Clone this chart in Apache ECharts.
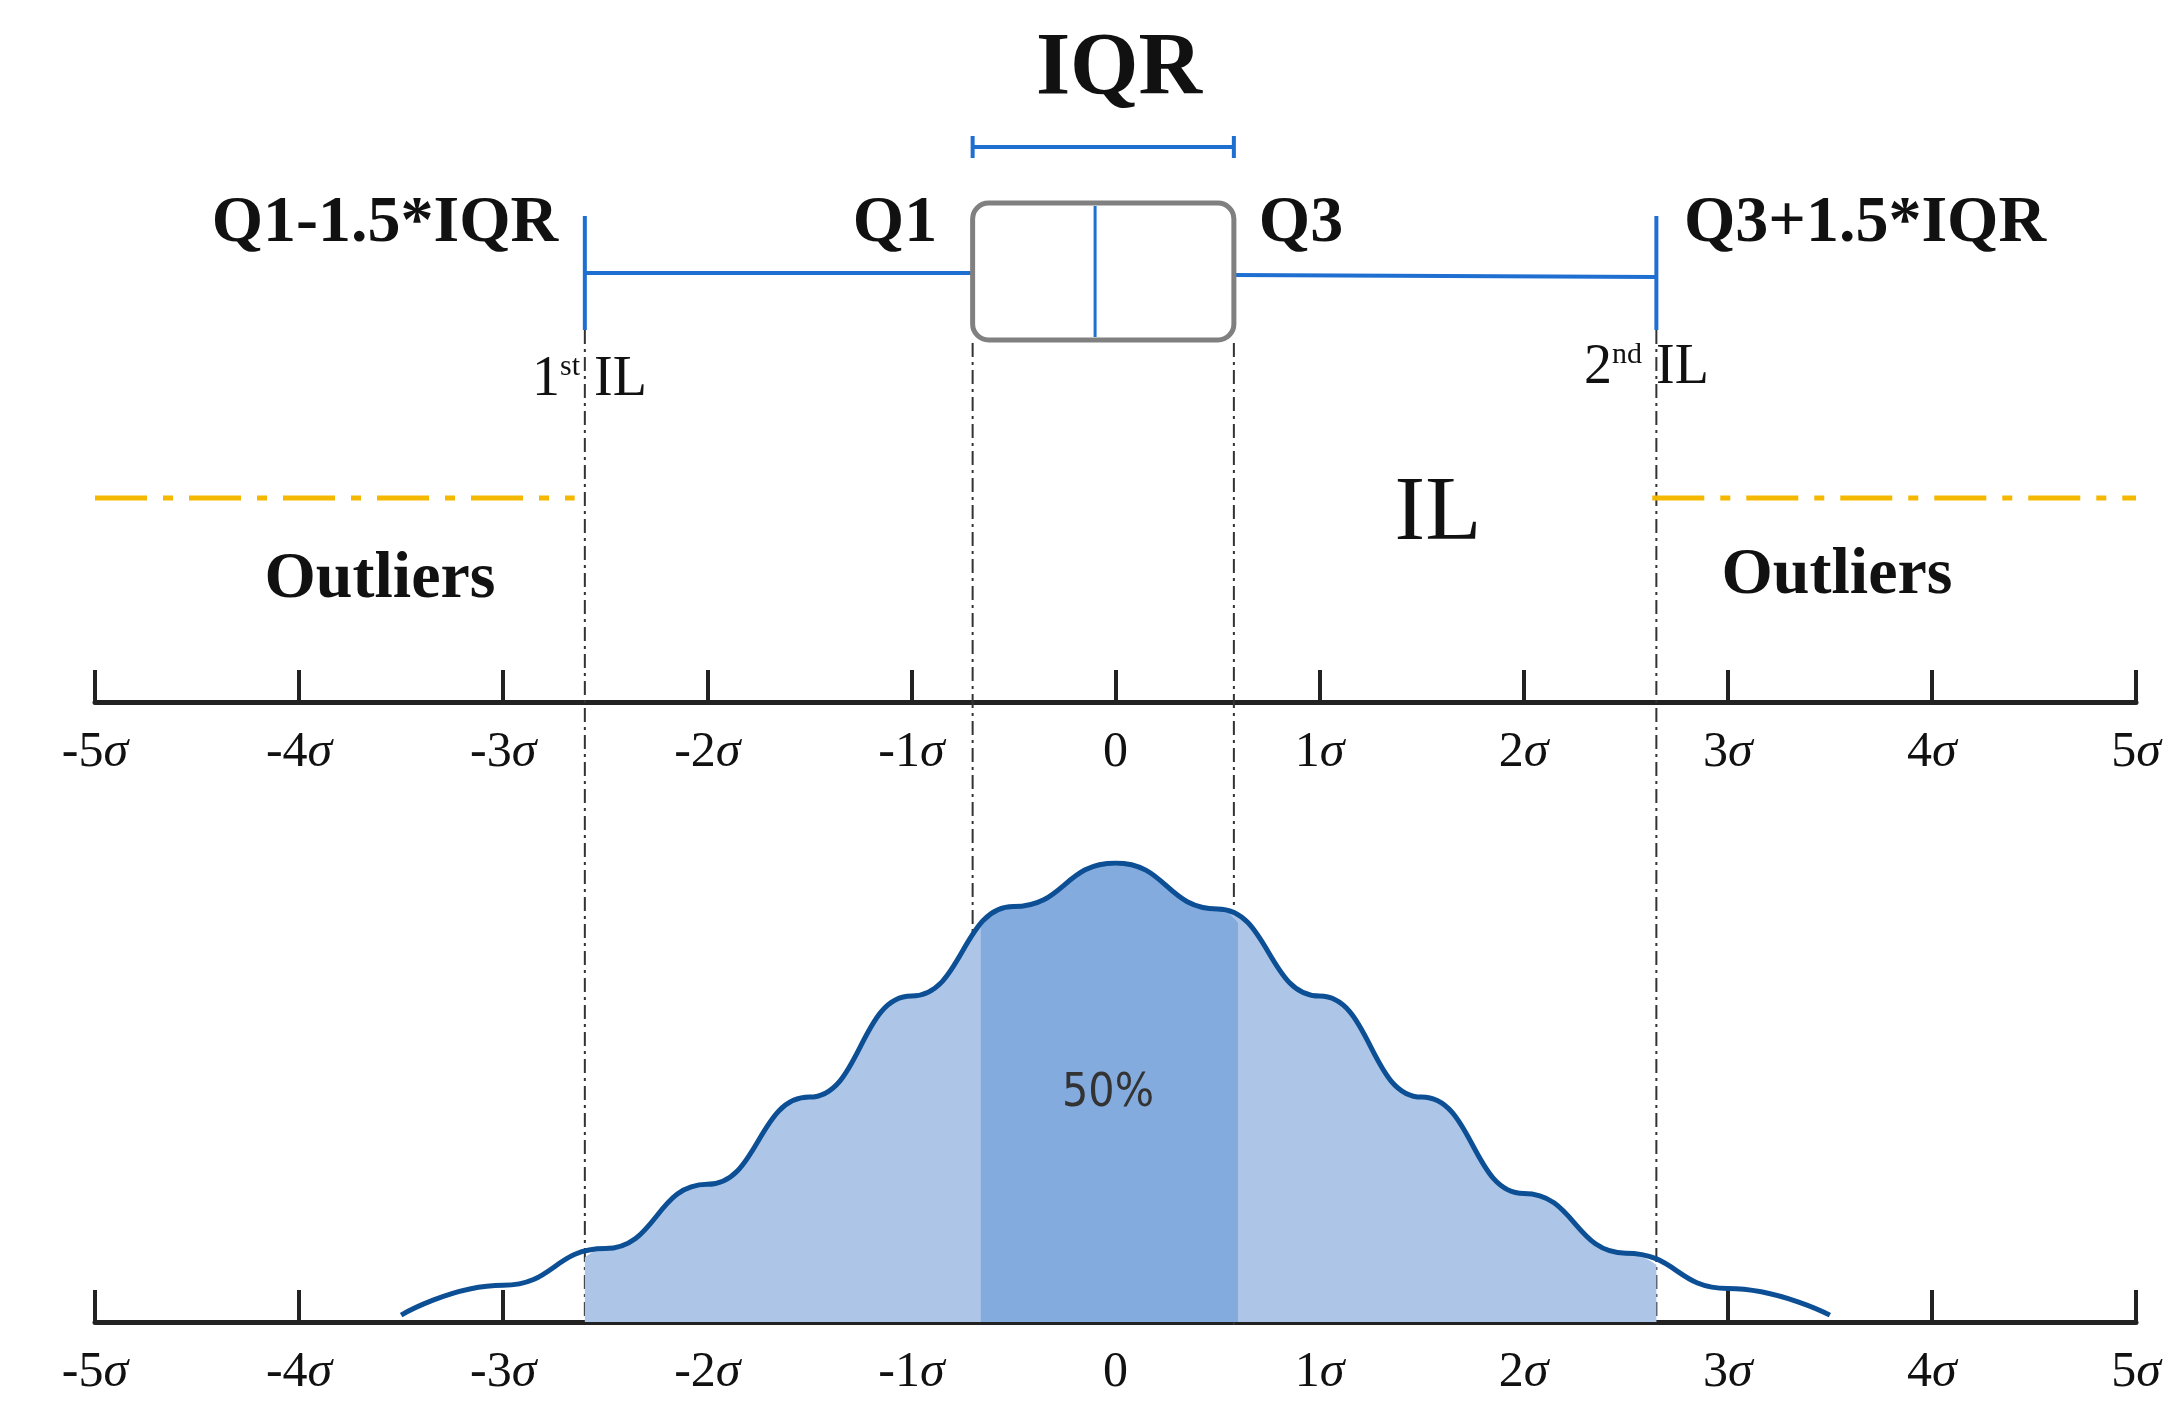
<!DOCTYPE html>
<html><head><meta charset="utf-8">
<script src="https://cdn.jsdelivr.net/npm/echarts@6/dist/echarts.min.js"></script>
<style>html,body{margin:0;padding:0;background:#fff}#c{width:2182px;height:1415px}</style>
</head><body><div id="c"></div>
<script>
// ---- data ----
const sigmaTicks = [-5,-4,-3,-2,-1,0,1,2,3,4,5];
const curveX = [-3.5,-3,-2.5,-2,-1.5,-1,-0.5,0,0.5,1,1.5,2,2.5,3,3.5];
const curveY = [0.015,0.08,0.16,0.30,0.49,0.71,0.905,1.0,0.90,0.71,0.49,0.28,0.15,0.073,0.015];
const lowerFence = -2.6, upperFence = 2.65;
const q1 = -0.7, q3 = 0.58, median = -0.1;
const fenceDensity = [0.14, 0.125];
const quartDensity = [0.86, 0.87];
// ---- helpers ----
function segment(a, b, ya, yb){
  const pts = [[a, ya]];
  curveX.forEach((x,i)=>{ if(x>a && x<b) pts.push([x, curveY[i]]); });
  pts.push([b, yb]);
  return pts;
}
const serif = '"Liberation Serif","DejaVu Serif",serif';
const axisCommon = {
  type:'value', min:-5, max:5, interval:1, position:'bottom',
  axisLine:{show:true, onZero:false, lineStyle:{color:'#222', width:5}},
  axisTick:{show:true, inside:true, length:32, lineStyle:{color:'#222', width:4}},
  splitLine:{show:false},
  axisLabel:{margin:26, formatter:v=>'{n|'+(v===0?'0':v+'')+'}'+(v===0?'':'{s|σ}'),
    rich:{n:{fontFamily:serif,fontSize:50,color:'#111'}, s:{fontFamily:serif,fontSize:50,fontStyle:'italic',color:'#111'}}}
};
const chart = echarts.init(document.getElementById('c'));
const dashV = {color:'#333', width:2, type:[14,5,3,5]};
function vline(x, y0, y1){ return {type:'line', xAxisIndex:0, yAxisIndex:0, data:[[x,y0],[x,y1]], symbol:'none', clip:false, lineStyle:dashV, z:1}; }
function t(text, x, y, size, bold, extra){
  return Object.assign({type:'text', x, y, style:{text, fontFamily:serif, fontSize:size, fontWeight:bold?'bold':'normal', fill:'#111', align:'center', verticalAlign:'middle'}}, extra||{});
}
const curveLine = {smooth:0.5, smoothMonotone:'x'};
chart.setOption({
  animation:false,
  grid:[{left:95,right:46,top:0,height:702},{left:95,right:46,top:863,bottom:93}],
  xAxis:[Object.assign({gridIndex:0},axisCommon), Object.assign({gridIndex:1},axisCommon)],
  yAxis:[{gridIndex:0,type:'value',min:0,max:702,inverse:true,show:false},
         {gridIndex:1,type:'value',min:0,max:1,show:false}],
  series:[
    Object.assign({type:'line', xAxisIndex:1, yAxisIndex:1, data:segment(lowerFence, upperFence, fenceDensity[0], fenceDensity[1]), symbol:'none', lineStyle:{width:0}, areaStyle:{color:'#adc6e8', opacity:1}, z:2}, curveLine),
    Object.assign({type:'line', xAxisIndex:1, yAxisIndex:1, data:segment(q1+0.04, q3+0.02, quartDensity[0], quartDensity[1]), symbol:'none', lineStyle:{width:0}, areaStyle:{color:'#84abdd', opacity:1}, z:3}, curveLine),
    Object.assign({type:'line', xAxisIndex:1, yAxisIndex:1, data:curveX.map((x,i)=>[x,curveY[i]]), symbol:'none', lineStyle:{color:'#0d4f94', width:5}, z:5}, curveLine),
    vline(lowerFence, 330, 1318), vline(q1, 343, 1322), vline(q3, 343, 1325), vline(upperFence, 330, 1322),
    {type:'line', data:[[lowerFence,273],[q1,273]], symbol:'none', lineStyle:{color:'#1f6fd1', width:4}},
    {type:'line', data:[[q3,275],[upperFence,277]], symbol:'none', lineStyle:{color:'#1f6fd1', width:4}},
    {type:'line', data:[[lowerFence,216],[lowerFence,330]], symbol:'none', lineStyle:{color:'#1f6fd1', width:4}},
    {type:'line', data:[[upperFence,216],[upperFence,330]], symbol:'none', lineStyle:{color:'#1f6fd1', width:4}},
    {type:'line', data:[[q1,147],[q3,147]], symbol:'none', lineStyle:{color:'#1f6fd1', width:4}},
    {type:'line', data:[[q1,136],[q1,158]], symbol:'none', lineStyle:{color:'#1f6fd1', width:4}},
    {type:'line', data:[[q3,136],[q3,158]], symbol:'none', lineStyle:{color:'#1f6fd1', width:4}},
    {type:'custom', xAxisIndex:0, yAxisIndex:0, data:[[q1,q3,median]], clip:false, z:4,
     renderItem:(params, api)=>{
       const p0 = api.coord([api.value(0),203]), p1 = api.coord([api.value(1),340]);
       const m0 = api.coord([api.value(2),203]), m1 = api.coord([api.value(2),340]);
       return {type:'group', children:[
         {type:'rect', shape:{x:p0[0],y:p0[1],width:p1[0]-p0[0],height:p1[1]-p0[1],r:16}, style:{fill:'#fff',stroke:'#808080',lineWidth:5}},
         {type:'line', shape:{x1:m0[0],y1:m0[1]+3,x2:m1[0],y2:m1[1]-3}, style:{stroke:'#1f6fd1',lineWidth:3}}
       ]};
     }},
    {type:'line', data:[[-5,498],[lowerFence-0.05,498]], symbol:'none', lineStyle:{color:'#f5b800', width:5, type:[52,16,10,16]}},
    {type:'line', data:[[upperFence-0.02,498],[5,498]], symbol:'none', lineStyle:{color:'#f5b800', width:5, type:[52,16,10,16]}}
  ],
  graphic:[
    t('IQR',1119,70,88,true),
    t('Q1-1.5*IQR',385,224,66,true),
    t('Q1',895,224,66,true),
    t('Q3',1301,224,66,true),
    t('Q3+1.5*IQR',1865,224,66,true),
    {type:'text', x:532, y:352, style:{text:'{a|1}{b|st}{a| IL}', fontFamily:serif, rich:{a:{fontFamily:serif,fontSize:56,fill:'#111',verticalAlign:'bottom'},b:{fontFamily:serif,fontSize:30,fill:'#111',verticalAlign:'top',padding:[0,0,26,0]}}}},
    {type:'text', x:1584, y:340, style:{text:'{a|2}{b|nd}{a| IL}', fontFamily:serif, rich:{a:{fontFamily:serif,fontSize:56,fill:'#111',verticalAlign:'bottom'},b:{fontFamily:serif,fontSize:30,fill:'#111',verticalAlign:'top',padding:[0,0,26,0]}}}},
    t('IL',1438,515,92,false),
    t('Outliers',380,580,66,true),
    t('Outliers',1837,576,66,true),
    {type:'text', x:1108, y:1094, z:10, style:{text:'50%', fontFamily:'"Liberation Sans Narrow","DejaVu Sans Condensed",sans-serif', fontSize:46, fill:'#333', align:'center', verticalAlign:'middle'}}
  ]
});
</script></body></html>
